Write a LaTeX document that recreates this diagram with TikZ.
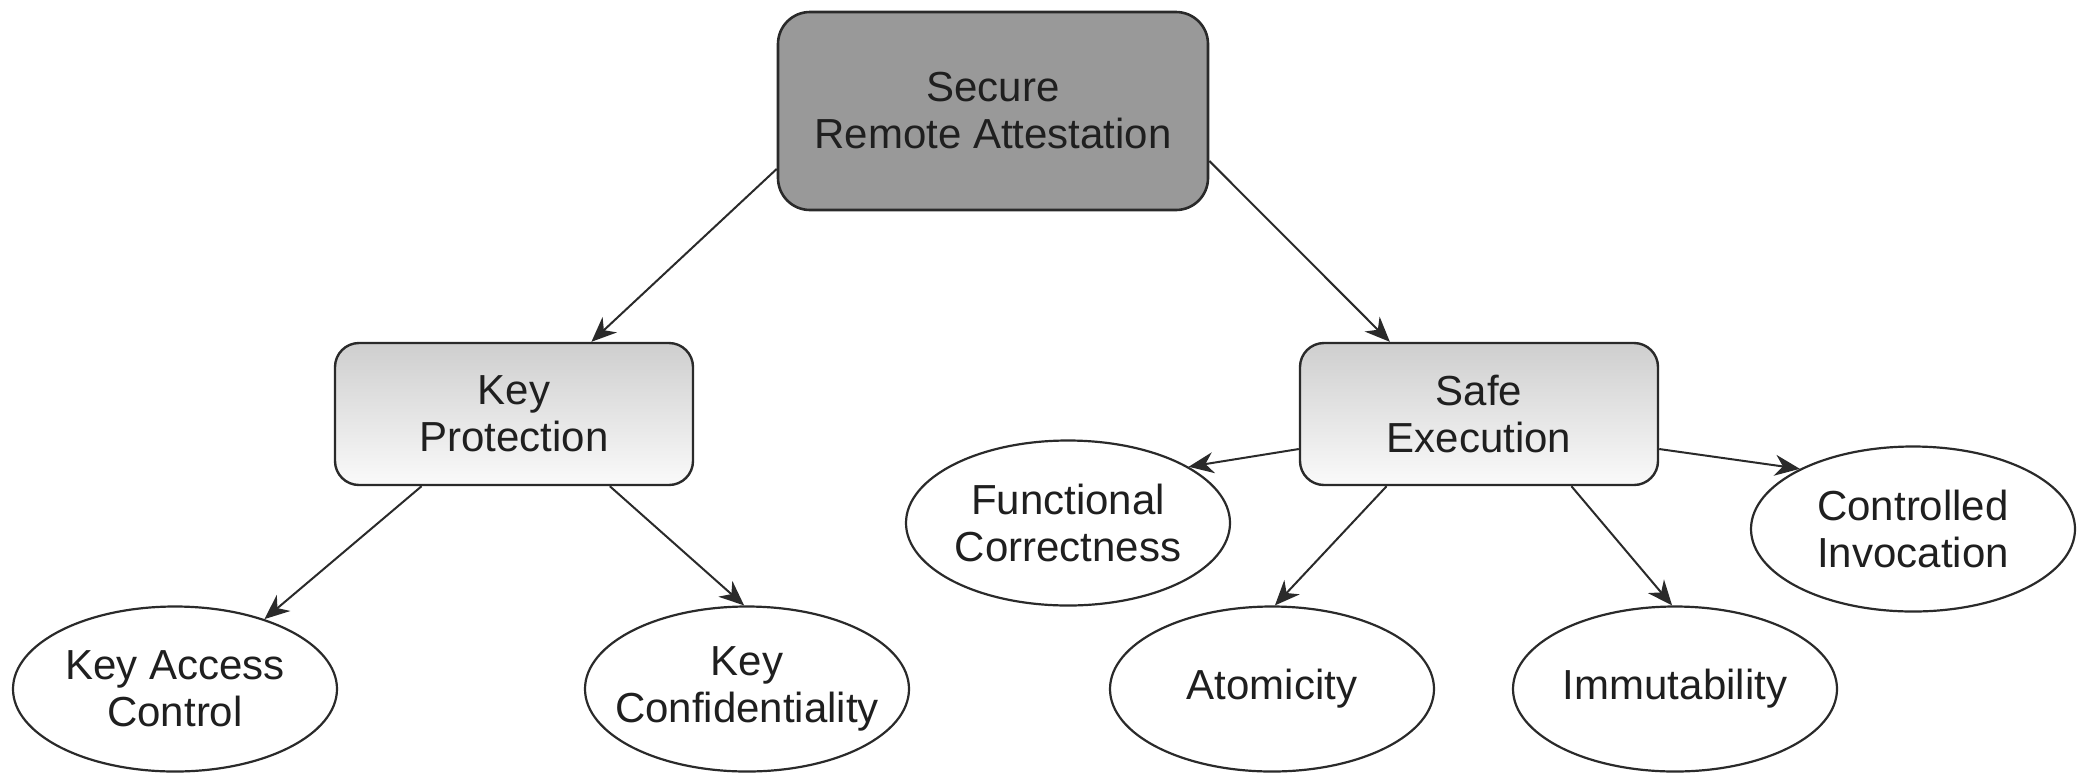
\documentclass[tikz,border=0pt]{standalone}
\usepackage{fontspec}
\setmainfont{Liberation Sans}
\usetikzlibrary{shapes.geometric,arrows.meta}
\definecolor{edgec}{HTML}{2A2A2A}
\definecolor{topfill}{HTML}{999999}
\tikzset{
  txt/.style={font=\fontsize{42}{47}\selectfont, text=black!88, align=center},
  topbox/.style={txt, draw=edgec, line width=2.6pt, rounded corners=32pt, fill=topfill,
    minimum width=430pt, minimum height=198pt},
  midbox/.style={txt, draw=edgec, line width=2.4pt, rounded corners=24pt,
    top color=black!19, bottom color=black!2,
    minimum width=358pt, minimum height=142pt},
  leaf/.style={txt, ellipse, draw=edgec, line width=2.2pt, fill=white,
    minimum width=324pt, minimum height=165pt, inner xsep=-60pt, inner ysep=0pt},
  arr/.style={draw=edgec, line width=2pt, -{Stealth[length=25pt,width=21pt,inset=8pt]}}
}
\begin{document}
\begin{tikzpicture}[x=1pt,y=-1pt]
\useasboundingbox (0,0) rectangle (2077,772);
\node[topbox] (sra) at (993,111) {Secure\\Remote Attestation};
\node[midbox] (kp) at (514,414) {Key\\Protection};
\node[midbox] (se) at (1479,414) {Safe\\Execution};
\node[leaf] (kac) at (175,689) {Key Access\\Control};
\node[leaf] (kconf) at (747,689) {Key\\Confidentiality};
\node[leaf] (fc) at (1068,523) {Functional\\Correctness};
\node[leaf] (atom) at (1272,689) {Atomicity};
\node[leaf] (imm) at (1675,689) {Immutability};
\node[leaf] (ci) at (1913,529) {Controlled\\Invocation};
\draw[arr] (sra.195) -- (kp.43);
\draw[arr] (sra.347) -- (se.141);
\draw[arr] (kp.218) -- (kac.38);
\draw[arr] (kp.323) -- (kconf.92);
\draw[arr] (se.191) -- (fc.25);
\draw[arr] (se.218) -- (atom.88);
\draw[arr] (se.322) -- (imm.92);
\draw[arr] (se.349) -- (ci.152);
\end{tikzpicture}
\end{document}
